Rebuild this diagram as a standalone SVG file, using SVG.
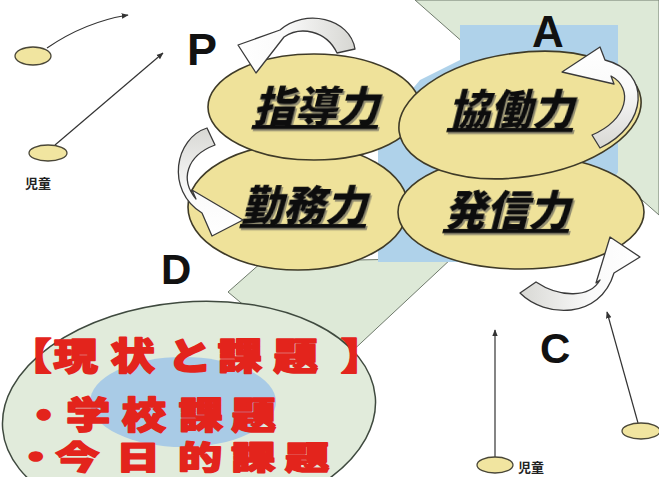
<svg xmlns="http://www.w3.org/2000/svg" width="659" height="477" viewBox="0 0 659 477">
<defs>
<style>
.yel{fill:#efe29a;stroke:#3f3b28;stroke-width:1.6}
.kw{font-family:"Noto Sans CJK JP","Noto Sans CJK SC",sans-serif;font-size:42px;font-weight:900;fill:#111;text-decoration:underline}
.red{font-family:"Noto Sans CJK JP","Noto Sans CJK SC",sans-serif;font-size:37px;font-weight:900;fill:#e3241c;stroke:#e3241c;stroke-width:1.6;stroke-linejoin:round}
.let{font-family:"Liberation Sans",Arial,sans-serif;font-weight:bold;fill:#111}
.kid{fill:#f1e5a0;stroke:#4a4738;stroke-width:1.3}
.lbl{font-family:"Noto Sans CJK JP","Noto Sans CJK SC",sans-serif;font-size:13px;font-weight:bold;fill:#222}
.ln{fill:none;stroke:#333;stroke-width:1.2}
.carrow{stroke:#3a3a3a;stroke-width:1.3;stroke-linejoin:round}
</style>
<filter id="sh" x="-10%" y="-10%" width="130%" height="140%">
<feDropShadow dx="2" dy="2" stdDeviation="0.6" flood-color="#555" flood-opacity="0.6"/>
</filter>
<marker id="ah" viewBox="0 0 10 10" refX="9" refY="5" markerWidth="7" markerHeight="7" markerUnits="userSpaceOnUse" orient="auto">
<path d="M0,1 L10,5 L0,9 Z" fill="#333"/>
</marker>
<linearGradient id="gP" x1="1" y1="0" x2="0" y2="0"><stop offset="0" stop-color="#d6d6d2"/><stop offset="0.6" stop-color="#fafafa"/><stop offset="1" stop-color="#fff"/></linearGradient>
<linearGradient id="gD" x1="0" y1="0" x2="0" y2="1"><stop offset="0" stop-color="#d8d8d4"/><stop offset="0.6" stop-color="#fafafa"/><stop offset="1" stop-color="#fff"/></linearGradient>
<linearGradient id="gA" x1="0" y1="1" x2="0" y2="0"><stop offset="0" stop-color="#d8d8d4"/><stop offset="0.6" stop-color="#fafafa"/><stop offset="1" stop-color="#fff"/></linearGradient>
<linearGradient id="gC" x1="0" y1="0" x2="1" y2="0"><stop offset="0" stop-color="#d8d8d4"/><stop offset="0.6" stop-color="#fafafa"/><stop offset="1" stop-color="#fff"/></linearGradient>
</defs>

<rect width="659" height="477" fill="#ffffff"/>

<g id="background">
<polygon points="415,0 659,0 659,215" fill="#dde9d7" stroke="#6f7a6c" stroke-width="1"/>
<polygon points="228,292 262,262 452,258 332,370 300,352" fill="#dde9d7" stroke="#6f7a6c" stroke-width="1"/>
<polygon points="460,25 618,25 618,172 560,262 378,262 378,130 420,80 460,60" fill="#afd2ea"/>
</g>

<g id="node-kadai">
<ellipse cx="189" cy="413" rx="187" ry="111" transform="rotate(-5 189 413)" fill="#e1ebdb" stroke="#3f4a3f" stroke-width="1.5"/>
<ellipse cx="183" cy="402" rx="93" ry="45" fill="#a9cbe6"/>
<g transform="scale(1.2 1)">
<text class="red" y="370"><tspan x="6">【</tspan><tspan x="44.5">現</tspan><tspan x="92">状</tspan><tspan x="139.5">と</tspan><tspan x="181.5">課</tspan><tspan x="228">題</tspan><tspan x="284">】</tspan></text>
<text class="red" y="429"><tspan x="18">・</tspan><tspan x="55">学</tspan><tspan x="101.5">校</tspan><tspan x="149">課</tspan><tspan x="193">題</tspan></text>
</g>
<g transform="scale(1.38 1)">
<text class="red" y="469" font-size="32" style="font-size:32px"><tspan x="10">・</tspan><tspan x="40">今</tspan><tspan x="84">日</tspan><tspan x="129">的</tspan><tspan x="167.5">課</tspan><tspan x="206.5">題</tspan></text>
</g>
</g>

<g id="node-kinmu">
<ellipse class="yel" cx="298" cy="207" rx="110" ry="63"/>
<text class="kw" filter="url(#sh)" transform="translate(304 221) skewX(-14)" text-anchor="middle">勤務力</text>
</g>
<g id="node-hasshin">
<ellipse class="yel" cx="521" cy="212" rx="123" ry="57"/>
<text class="kw" filter="url(#sh)" transform="translate(507 226) skewX(-14)" text-anchor="middle">発信力</text>
</g>
<g id="node-shidou">
<ellipse class="yel" cx="314" cy="107" rx="106" ry="53"/>
<text class="kw" filter="url(#sh)" transform="translate(316 122) skewX(-14)" text-anchor="middle">指導力</text>
</g>
<g id="node-kyoudou">
<ellipse class="yel" cx="520" cy="115" rx="122" ry="62" transform="rotate(-8 520 115)"/>
<text class="kw" filter="url(#sh)" transform="translate(511 125) skewX(-14)" text-anchor="middle">協働力</text>
</g>

<g id="connectors">
<path class="carrow" fill="url(#gP)" d="M355,49 C350,18 305,8 280,30 L238,45 L256,73 L284,37 C300,26 326,30 337,53 Z"/>
<path class="carrow" fill="url(#gD)" d="M207,128 C175,138 165,190 202,213 L212,236 L243,220 L192,190 L196,199 C180,180 186,156 215,145 Z"/>
<path class="carrow" fill="url(#gA)" d="M600,148 C648,125 652,72 605,60 L600,47 L562,72 L614,84 L611,76 C634,88 628,120 592,135 Z"/>
<path class="carrow" fill="url(#gC)" d="M520,293 C545,318 600,320 614,273 L640,257 L610,237 L596,283 L600,280 C590,298 560,298 536,282 Z"/>
<path class="ln" d="M47,48 Q85,22 128,15" marker-end="url(#ah)"/>
<path class="ln" d="M55,145 L163,53" marker-end="url(#ah)"/>
<path class="ln" d="M495,457 L495,330" marker-end="url(#ah)"/>
<path class="ln" d="M638,423 L607,312" marker-end="url(#ah)"/>
</g>

<g id="labels">
<text class="let" x="187" y="65" font-size="45">P</text>
<text class="let" x="532" y="47" font-size="44">A</text>
<text class="let" x="161" y="284" font-size="42">D</text>
<text class="let" x="540" y="363" font-size="42">C</text>
</g>

<g id="child-1"><ellipse class="kid" cx="33" cy="56" rx="18" ry="9"/></g>
<g id="child-2"><ellipse class="kid" cx="48" cy="153" rx="19" ry="8"/><text class="lbl" x="25" y="188">児童</text></g>
<g id="child-3"><ellipse class="kid" cx="495" cy="465" rx="18" ry="8"/><text class="lbl" x="518" y="472">児童</text></g>
<g id="child-4"><ellipse class="kid" cx="641" cy="431" rx="19" ry="8"/></g>
</svg>
